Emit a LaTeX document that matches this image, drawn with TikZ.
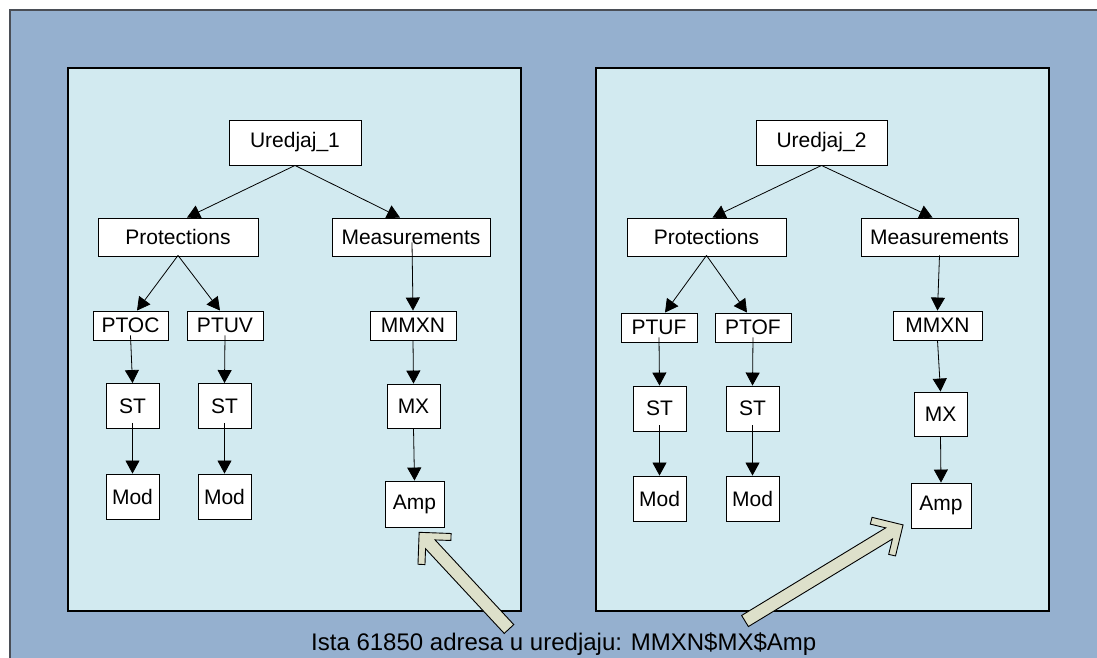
\documentclass[tikz,border=0pt]{standalone}
\usepackage{fontspec}
\setmainfont{Liberation Sans}
\usetikzlibrary{arrows.meta,calc}
\definecolor{outerbg}{HTML}{95B0CF}
\definecolor{panelbg}{HTML}{D2EAF0}
\definecolor{arrowfill}{HTML}{DDE0CA}
\definecolor{frameline}{HTML}{4A4E56}

% Broad callout arrow: tail point, direction angle, length
\newcommand\calloutarrow[3]{%
  \begin{scope}[shift={#1},rotate=#2]
    \filldraw[fill=arrowfill,draw=black,line width=0.9pt,line join=miter]
      (0,-6.5) -- ({#3-16.4},-6.5) -- ({#3-27.6},-17.7) -- ({#3-22.6},-22.6)
      -- (#3,0) -- ({#3-22.6},22.6) -- ({#3-27.6},17.7) -- ({#3-16.4},6.5)
      -- (0,6.5) -- cycle;
  \end{scope}}

\begin{document}
\begin{tikzpicture}[x=1pt,y=-1pt,
  nb/.style 2 args={draw=black,line width=0.9pt,fill=white,inner sep=0pt,
    minimum width=#1,minimum height=#2,font=\fontsize{21}{25}\selectfont},
  conn/.style={draw=black,line width=0.8pt,-{Triangle[width=14pt,length=13pt]}},
  panel/.style={fill=panelbg,draw=black,line width=1.4pt}]

\useasboundingbox (0,0) rectangle (1097,657);
\clip (0,0) rectangle (1097,657);

% background frame and the two device panels
\draw[fill=outerbg,draw=frameline,line width=2pt] (10,10) rectangle (1130,690);
\draw[panel] (68,68) rectangle (521,611);
\draw[panel] (596,68) rectangle (1049,611);

% ---- device 1 ----
\node[nb={132}{45}] (u1) at (295,142.5) {Uredjaj\_1};
\node[nb={160}{38}] (p1) at (178,237) {Protections};
\node[nb={158}{38}] (m1) at (411,237) {Measurements};
\node[nb={75}{29}] (ptoc) at (130.5,325.5) {PTOC};
\node[nb={76}{29}] (ptuv) at (225,325.5) {PTUV};
\node[nb={53}{45}] (st1a) at (132.5,406) {ST};
\node[nb={53}{45}] (st1b) at (224.5,406) {ST};
\node[nb={53}{45}] (mod1a) at (132.5,496.5) {Mod};
\node[nb={53}{45}] (mod1b) at (224.5,496.5) {Mod};
\node[nb={86}{29}] (mmxn1) at (413,325.5) {MMXN};
\node[nb={53}{44}] (mx1) at (413.5,406) {MX};
\node[nb={59}{46}] (amp1) at (414.5,504) {Amp};

\draw[conn] (u1.south) -- ([xshift=9pt]p1.north);
\draw[conn] (u1.south) -- ([xshift=-11pt]m1.north);
\draw[conn] ([yshift=1pt]p1.south) -- ([xshift=6.5pt]ptoc.north);
\draw[conn] ([yshift=1pt]p1.south) -- ([xshift=-5pt]ptuv.north);
\draw[conn] ([yshift=5pt]ptoc.south) -- (st1a.north);
\draw[conn] ([yshift=5pt]ptuv.south) -- (st1b.north);
\draw[conn] ([yshift=6pt]st1a.south) -- (mod1a.north);
\draw[conn] ([yshift=6pt]st1b.south) -- (mod1b.north);
\draw[conn] ([xshift=1pt,yshift=14pt]m1.south) -- (mmxn1.north);
\draw[conn] (mmxn1.south) -- (mx1.north);
\draw[conn] (mx1.south) -- (amp1.north);

% ---- device 2 ----
\node[nb={131}{45}] (u2) at (821.5,142.5) {Uredjaj\_2};
\node[nb={159}{38}] (p2) at (706.5,237) {Protections};
\node[nb={157}{38}] (m2) at (939.5,237) {Measurements};
\node[nb={76}{29}] (ptuf) at (659,327.5) {PTUF};
\node[nb={76}{29}] (ptof) at (753,327.5) {PTOF};
\node[nb={53}{45}] (st2a) at (659.5,408.5) {ST};
\node[nb={53}{45}] (st2b) at (752.5,408.5) {ST};
\node[nb={53}{45}] (mod2a) at (659.5,498.5) {Mod};
\node[nb={53}{45}] (mod2b) at (752.5,498.5) {Mod};
\node[nb={89}{29}] (mmxn2) at (937.5,325.5) {MMXN};
\node[nb={53}{44}] (mx2) at (940.5,414) {MX};
\node[nb={60}{45}] (amp2) at (941,505.5) {Amp};

\draw[conn] (u2.south) -- ([xshift=6pt]p2.north);
\draw[conn] (u2.south) -- ([xshift=-7pt]m2.north);
\draw[conn] ([yshift=1pt]p2.south) -- ([xshift=6pt]ptuf.north);
\draw[conn] ([yshift=1pt]p2.south) -- ([xshift=-6pt]ptof.north);
\draw[conn] ([yshift=5pt]ptuf.south) -- (st2a.north);
\draw[conn] ([yshift=5pt]ptof.south) -- (st2b.north);
\draw[conn] ([yshift=6pt]st2a.south) -- (mod2a.north);
\draw[conn] ([yshift=6pt]st2b.south) -- (mod2b.north);
\draw[conn] ([yshift=1pt]m2.south) -- (mmxn2.north);
\draw[conn] (mmxn2.south) -- (mx2.north);
\draw[conn] (mx2.south) -- (amp2.north);

% ---- shared address note ----
\calloutarrow{(509,629)}{132.9}{132}
\calloutarrow{(745,621)}{31.3}{185}
\node[anchor=base west,inner sep=0pt,font=\fontsize{24}{28}\selectfont] (note)
  at (311,650) {Ista 61850 adresa u uredjaju: MMXN\$MX\$Amp};

\end{tikzpicture}
\end{document}
